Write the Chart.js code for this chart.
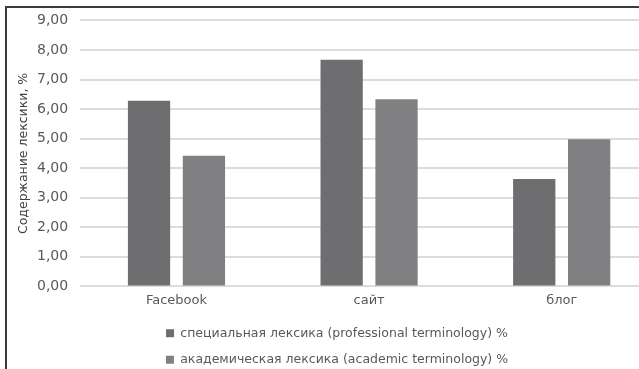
<!DOCTYPE html>
<html>
<head>
<meta charset="utf-8">
<script src="https://cdn.jsdelivr.net/npm/chart.js@4"></script>
<style>
  html, body { margin: 0; padding: 0; background: #fff; overflow: hidden; }
  #wrap { position: relative; width: 639px; height: 369px; overflow: hidden; }
  #box { position: absolute; left: 0; top: 0; width: 668px; height: 376px; }
  .edge { position: absolute; background: #3c3c3c; }
</style>
</head>
<body>
<div id="wrap">
  <div id="box"><canvas id="c" width="668" height="376"></canvas></div>
  <div class="edge" style="left:5px;top:6px;width:2px;height:380px"></div>
  <div class="edge" style="left:5px;top:6px;width:700px;height:2px"></div>
</div>
<script>
// Share of vocabulary types by platform, %
const categories = ['Facebook', 'сайт', 'блог'];
const professionalTerms = [6.28, 7.67, 3.63];
const academicTerms = [4.42, 6.33, 4.98];
const seriesNames = [
  'специальная лексика (professional terminology) %',
  'академическая лексика (academic terminology) %'
];
const yTicks = [0, 1, 2, 3, 4, 5, 6, 7, 8, 9];

const fmt = v => v.toFixed(2).replace('.', ',');

new Chart(document.getElementById('c'), {
  type: 'bar',
  data: {
    labels: categories,
    datasets: [
      { label: seriesNames[0], data: professionalTerms, backgroundColor: '#6e6e70',
        categoryPercentage: 0.57, barPercentage: 0.77 },
      { label: seriesNames[1], data: academicTerms, backgroundColor: '#808082',
        categoryPercentage: 0.57, barPercentage: 0.77 }
    ]
  },
  options: {
    responsive: false,
    animation: false,
    layout: { padding: { left: 16, right: 10, top: 12, bottom: 0 } },
    plugins: {
      tooltip: { enabled: false },
      legend: {
        position: 'bottom',
        labels: {
          boxWidth: 8, boxHeight: 8, padding: 14, color: '#595959',
          font: { family: 'DejaVu Sans', size: 12.5 }
        }
      }
    },
    scales: {
      x: {
        grid: { display: false },
        border: { display: false },
        afterFit: axis => { axis.height += 7; },
        ticks: { color: '#595959', padding: -2, font: { family: 'DejaVu Sans', size: 13 } }
      },
      y: {
        min: 0, max: 9,
        afterBuildTicks: axis => { axis.ticks = yTicks.map(v => ({ value: v })); },
        afterFit: axis => { axis.width -= 6; },
        grid: { color: '#dcdcdc', lineWidth: 2, drawTicks: false },
        border: { display: false },
        ticks: { color: '#595959', padding: 12, callback: v => fmt(v),
          font: { family: 'DejaVu Sans', size: 14 } },
        title: {
          display: true, text: 'Содержание лексики, %', color: '#404040',
          padding: { top: 0, bottom: 0 },
          font: { family: 'DejaVu Sans', size: 12.5 }
        }
      }
    }
  }
});
</script>
</body>
</html>
